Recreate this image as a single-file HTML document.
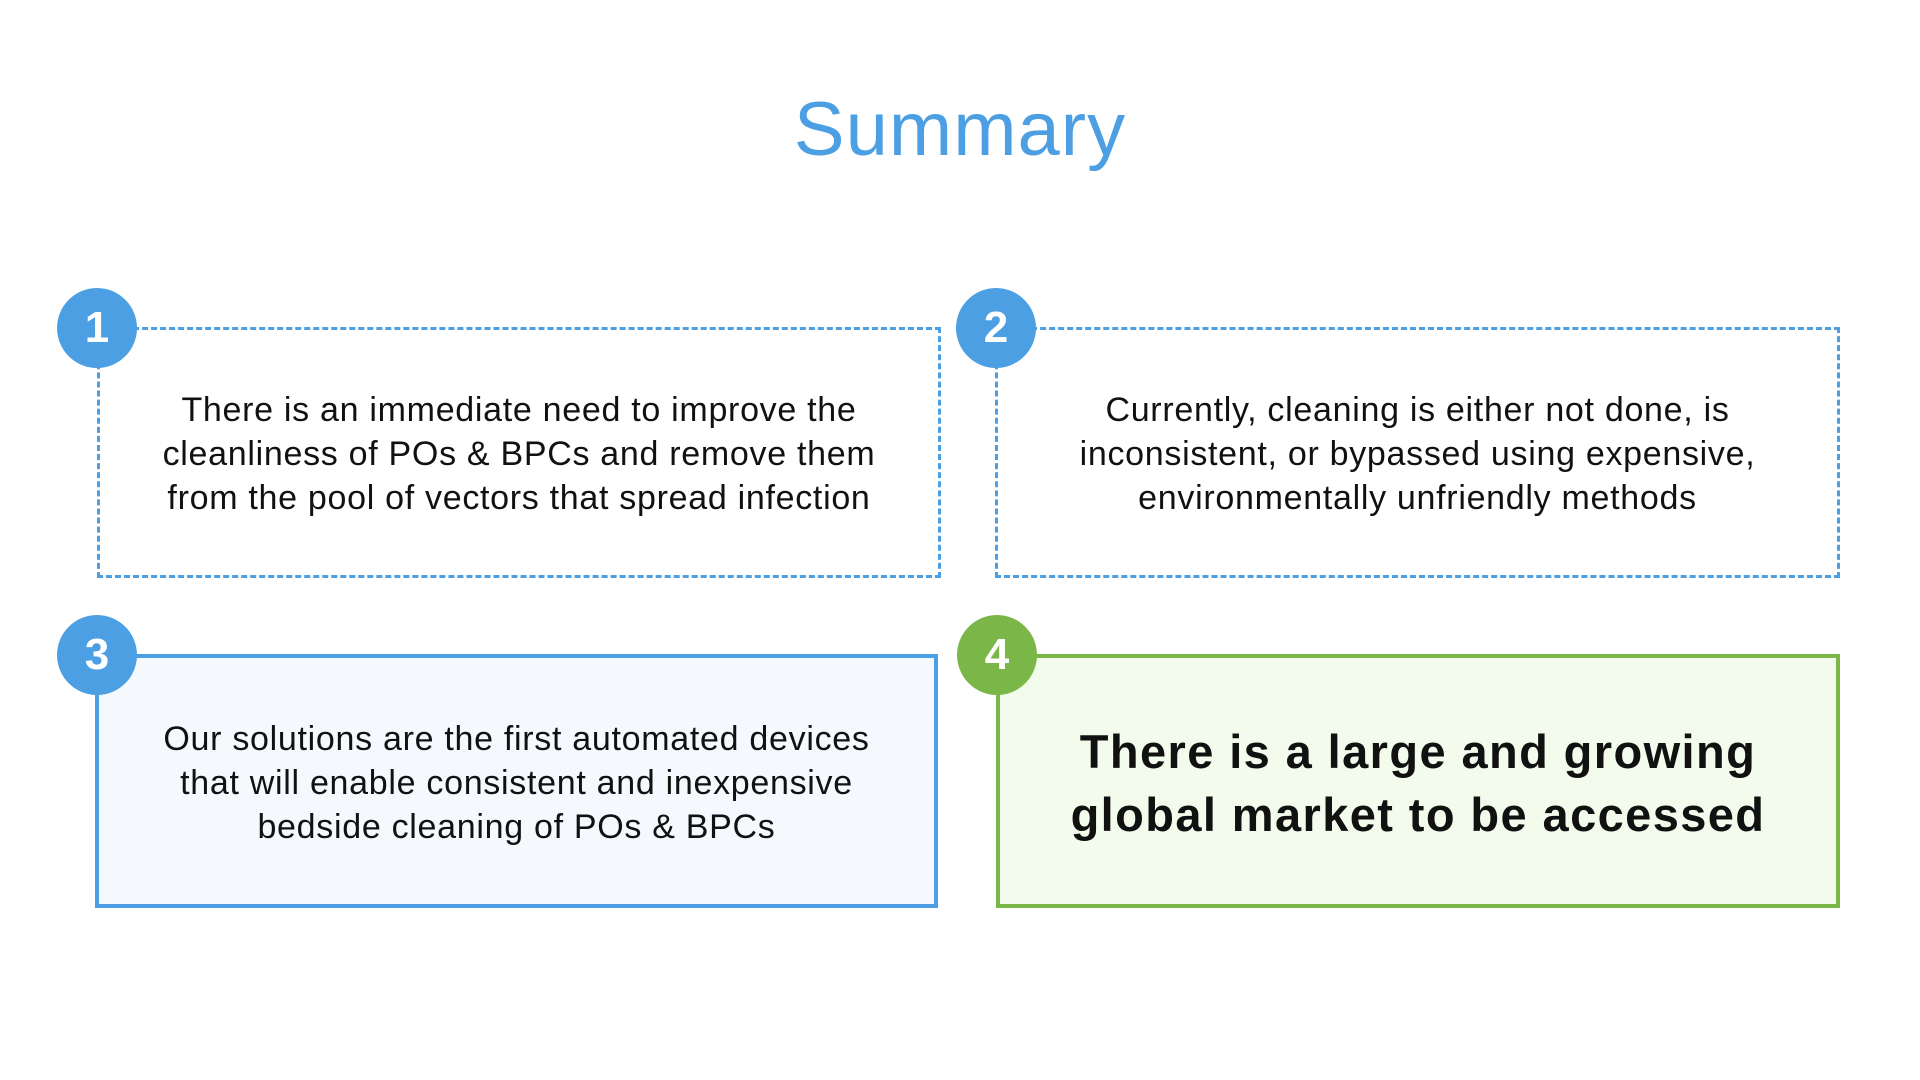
<!DOCTYPE html>
<html><head><style>
body{margin:0;width:1920px;height:1080px;background:#fff;position:relative;overflow:hidden;font-family:"Liberation Sans",sans-serif;}
.t{position:absolute;left:0;width:1920px;top:82px;text-align:center;font-size:76px;color:#4c9fe2;line-height:96px;letter-spacing:1px;}
.box{position:absolute;box-sizing:border-box;display:flex;align-items:center;justify-content:center;text-align:center;color:#111;padding-top:3px;}
.d{border:3px dashed #4c9fe2;font-size:34px;line-height:44px;letter-spacing:0.7px;}
.c{position:absolute;width:80px;height:80px;border-radius:50%;color:#fff;font-weight:bold;font-size:44px;line-height:80px;text-align:center;}
</style></head><body>
<div class="t">Summary</div>
<div class="box d" style="left:97px;top:327px;width:844px;height:251px;">There is an immediate need to improve the<br>cleanliness of POs &amp; BPCs and remove them<br>from the pool of vectors that spread infection</div>
<div class="box d" style="left:995px;top:327px;width:845px;height:251px;">Currently, cleaning is either not done, is<br>inconsistent, or bypassed using expensive,<br>environmentally unfriendly methods</div>
<div class="box" style="left:95px;top:654px;width:843px;height:254px;border:4px solid #4c9fe2;background:#f5f9fd;font-size:34px;line-height:44px;letter-spacing:0.7px;">Our solutions are the first automated devices<br>that will enable consistent and inexpensive<br>bedside cleaning of POs &amp; BPCs</div>
<div class="box" style="left:996px;top:654px;width:844px;height:254px;border:4px solid #7ab648;background:#f3fcec;font-size:47px;line-height:63px;font-weight:bold;letter-spacing:1.4px;">There is a large and growing<br>global market to be accessed</div>
<div class="c" style="left:57px;top:288px;background:#4c9fe2;">1</div>
<div class="c" style="left:956px;top:288px;background:#4c9fe2;">2</div>
<div class="c" style="left:57px;top:615px;background:#4c9fe2;">3</div>
<div class="c" style="left:957px;top:615px;background:#7ab648;">4</div>
</body></html>
